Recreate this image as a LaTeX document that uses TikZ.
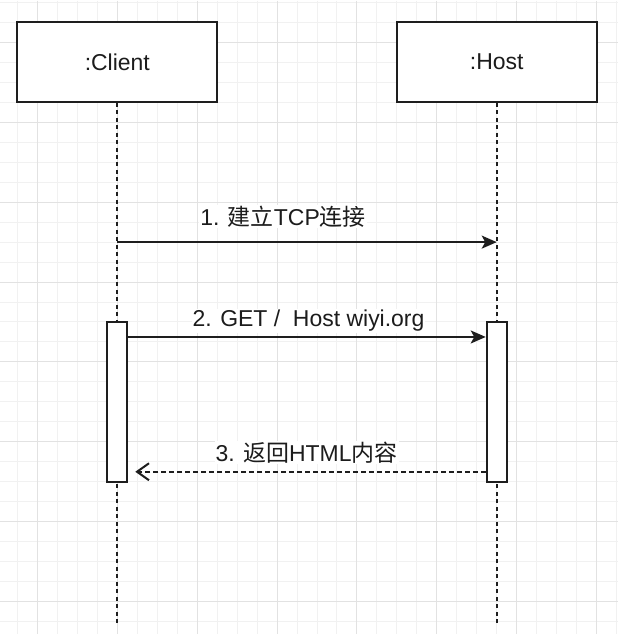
\documentclass[tikz,border=0pt]{standalone}
\usepackage{fontspec}
\setmainfont{Liberation Sans}
\newfontfamily\cjk{Noto Sans CJK SC}
\usepackage{tikz}
\usetikzlibrary{arrows.meta}
\definecolor{SeqInk}{HTML}{1E1E1E}
\definecolor{SeqText}{HTML}{1C1C1C}
\definecolor{GridMinor}{HTML}{F1F1F1}
\definecolor{GridMajor}{HTML}{E2E2E2}
\tikzset{
  lifebox/.style={draw=SeqInk,line width=2pt,fill=white,minimum width=200pt,
    minimum height=79.5pt,inner sep=0pt,font=\fontsize{23}{27}\selectfont,text=SeqText},
  actbox/.style={draw=SeqInk,line width=2pt,fill=white,minimum width=20pt,
    minimum height=160pt,inner sep=0pt},
  lifeline/.style={draw=SeqInk,line width=1.8pt,dash pattern=on 4pt off 3.5pt},
  callmsg/.style={-{Stealth[length=15pt,width=13pt,inset=3.5pt]},line width=2pt,draw=SeqInk},
  replymsg/.style={-{Straight Barb[length=12pt,width=17pt]},line width=2pt,draw=SeqInk,
    dash pattern=on 5pt off 3pt},
  msglabel/.style={fill=white,inner sep=1pt,anchor=base,
    font=\fontsize{23}{27}\selectfont,text=SeqText},
  gridminor/.style={draw=GridMinor,line width=1pt},
  gridmajor/.style={draw=GridMajor,line width=1pt}
}

\begin{document}
\begin{tikzpicture}[x=1pt,y=-1pt]
  % background grid
  \fill[white] (0,0) rectangle (618,634);
  \foreach \gx in {17,37,...,617} \draw[gridminor] (\gx,0) -- (\gx,634);
  \foreach \gy in {2,22,...,622} \draw[gridminor] (0,\gy) -- (618,\gy);
  \foreach \gx in {37,117,...,597} \draw[gridmajor] (\gx,0) -- (\gx,634);
  \foreach \gy in {42,122,...,602} \draw[gridmajor] (0,\gy) -- (618,\gy);
  \useasboundingbox (0,0) rectangle (618,634);

  \node[lifebox] (client) at (117,61.5) {:Client};
  \node[lifebox] (host) at (497,61.5) {:Host};
  \coordinate (cend) at (117,626);
  \coordinate (hend) at (497,626);
  \draw[lifeline] (client.south) -- (cend);
  \draw[lifeline] (host.south) -- (hend);
  \node[actbox] (cact) at (117,402) {};
  \node[actbox] (hact) at (497,402) {};

  % messages
  \coordinate (m1s) at (117,242);
  \coordinate (m1e) at (497,242);
  \draw[callmsg] (m1s) -- (m1e);
  \node[msglabel] (lbl1) at (283,225) {1. {\cjk 建立}TCP{\cjk 连接}};

  \coordinate (m2s) at (cact.east |- 0,337);
  \coordinate (m2e) at (hact.west |- 0,337);
  \draw[callmsg] (m2s) -- (m2e);
  \node[msglabel] (lbl2) at (308.5,327) {2. GET /\ \ Host wiyi.org};

  \coordinate (m3s) at (hact.west |- 0,472);
  \coordinate (m3e) at (135,472);
  \draw[replymsg] (m3s) -- (m3e);
  \node[msglabel] (lbl3) at (306.5,461.5) {3. {\cjk 返回}HTML{\cjk 内容}};
\end{tikzpicture}
\end{document}
